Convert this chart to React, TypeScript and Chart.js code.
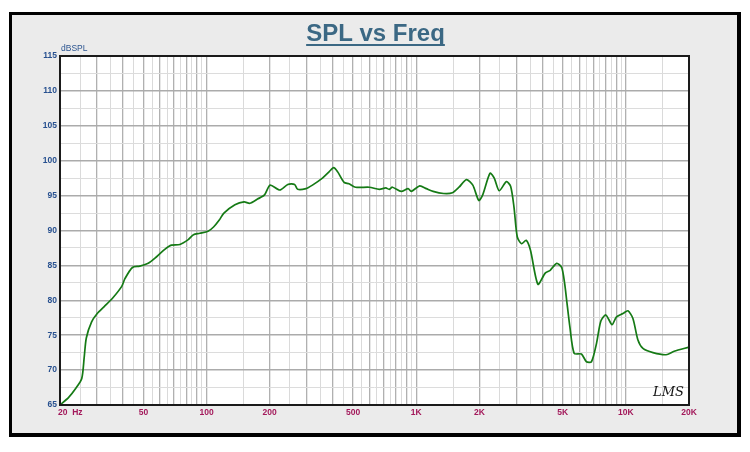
import React, { useEffect, useRef } from "react";
import { Chart, registerables } from "chart.js";

Chart.register(...registerables);

// ---- data ----
const chartTitle = "SPL vs Freq";
const yUnit = "dBSPL";
const logoText = "LMS";

const freqHz = [
  20, 22, 23.8, 25.4, 26.1, 26.7, 28.3, 30.1, 32.5, 35.6, 39.4, 40.8, 44.3, 48,
  52.7, 57.6, 63.2, 68, 74.6, 81.8, 86.6, 92.8, 101.7, 108, 115, 121, 136.6, 151,
  161, 175, 189, 201, 223.6, 244, 263, 272, 298, 320, 357, 384, 404, 422, 453,
  478, 514, 597, 667, 716, 743, 770, 848, 915, 947, 1039, 1118, 1204, 1350, 1488,
  1600, 1735, 1862, 1988, 2076, 2249, 2356, 2488, 2692, 2822, 2925, 3033, 3180,
  3344, 3505, 3806, 4123, 4355, 4677, 4940, 5100, 5219, 5406, 5667, 6138, 6485,
  6852, 7240, 7591, 8021, 8591, 9002, 9680, 10227, 10804, 11415, 12060, 13462,
  15553, 17000, 20000,
];

const splDb = [
  65.0, 66.1, 67.4, 68.8, 71.9, 74.6, 76.9, 78.1, 79.1, 80.3, 82.0, 83.1, 84.7, 84.9,
  85.3, 86.2, 87.3, 87.9, 88.0, 88.7, 89.4, 89.6, 89.9, 90.5, 91.5, 92.5, 93.7, 94.1,
  93.9, 94.5, 95.1, 96.5, 95.8, 96.6, 96.6, 95.9, 96.0, 96.5, 97.5, 98.4, 99.0, 98.4, 96.9,
  96.7, 96.2, 96.2, 95.9, 96.1, 95.9, 96.2, 95.6, 96.0, 95.6, 96.4, 96.0, 95.6, 95.3, 95.4,
  96.2, 97.3, 96.5, 94.3, 95.1, 98.2, 97.5, 95.7, 97.0, 96.3, 93.4, 89.1, 88.1,
  88.6, 87.2, 82.3, 83.9, 84.3, 85.3, 84.7, 82.5, 80.0, 76.2, 72.4, 72.3, 71.2,
  71.2, 73.8, 77.0, 77.9, 76.5, 77.6, 78.1, 78.5, 77.4, 74.3, 73.1, 72.5,
  72.2, 72.7, 73.3,
];

const xGridValues = [
  20, 25, 30, 35, 40, 45, 50, 55, 60, 65, 70, 75, 80, 85, 90, 95, 100,
  150, 200, 250, 300, 350, 400, 450, 500, 550, 600, 650, 700, 750, 800, 850, 900, 950, 1000,
  1500, 2000, 2500, 3000, 3500, 4000, 4500, 5000, 5500, 6000, 6500, 7000, 7500, 8000, 8500, 9000, 9500, 10000,
  15000, 20000,
];
const xLabelValues = [20, 50, 100, 200, 500, 1000, 2000, 5000, 10000, 20000];
const xLabelTexts = ["20  Hz", "50", "100", "200", "500", "1K", "2K", "5K", "10K", "20K"];

const yMin = 65;
const yMax = 115;
const yGridStep = 2.5;
const yLabelStep = 5;

const FONT = 'Arial, "Liberation Sans", sans-serif';

function isMajorX(v: number) {
  const p = Math.pow(10, Math.floor(Math.log10(v)));
  const r = v / p;
  return Math.abs(r - Math.round(r)) < 1e-6;
}

const framePlugin = {
  id: "framePlugin",
  beforeDraw(chart: any) {
    const { ctx, chartArea } = chart;
    ctx.save();
    ctx.fillStyle = "#ffffff";
    ctx.fillRect(0, 0, chart.width, chart.height);
    ctx.fillStyle = "#000000";
    ctx.fillRect(9, 12, 732, 425);
    ctx.fillStyle = "#ebebeb";
    ctx.fillRect(12, 15, 725, 418);
    ctx.fillStyle = "#ffffff";
    ctx.fillRect(
      chartArea.left,
      chartArea.top,
      chartArea.right - chartArea.left,
      chartArea.bottom - chartArea.top
    );
    ctx.restore();
  },
  afterDraw(chart: any) {
    const { ctx, chartArea } = chart;
    ctx.save();
    // plot border
    ctx.strokeStyle = "#1a1a1a";
    ctx.lineWidth = 2;
    ctx.strokeRect(
      chartArea.left,
      chartArea.top,
      chartArea.right - chartArea.left,
      chartArea.bottom - chartArea.top
    );
    // title with underline
    ctx.font = `bold 24px ${FONT}`;
    ctx.fillStyle = "#3b6884";
    ctx.textAlign = "center";
    ctx.textBaseline = "alphabetic";
    const cx = (chartArea.left + chartArea.right) / 2 + 1;
    ctx.fillText(chartTitle, cx, 41);
    const tw = ctx.measureText(chartTitle).width;
    ctx.fillRect(cx - tw / 2, 44, tw, 2);
    // unit label
    ctx.font = `8.5px ${FONT}`;
    ctx.fillStyle = "#2c5590";
    ctx.textAlign = "left";
    ctx.textBaseline = "middle";
    ctx.fillText(yUnit, chartArea.left + 1, 49);
    // first x label
    const xs = chart.scales.x;
    ctx.font = `bold 8.5px ${FONT}`;
    ctx.fillStyle = "#a3195b";
    ctx.textAlign = "left";
    ctx.textBaseline = "top";
    ctx.fillText(xLabelTexts[0], xs.getPixelForValue(xLabelValues[0]) - 2, chartArea.bottom + 3);
    // logo
    ctx.font = 'italic 13px "DejaVu Serif", serif';
    ctx.fillStyle = "#111111";
    ctx.textAlign = "left";
    ctx.textBaseline = "alphabetic";
    ctx.fillText(logoText, 653, 396);
    ctx.restore();
  },
};

export default function App() {
  const canvasRef = useRef<HTMLCanvasElement | null>(null);

  useEffect(() => {
    document.body.style.margin = "0";
    const canvas = canvasRef.current;
    if (!canvas) return;
    const chart = new Chart(canvas, {
      type: "line",
      data: {
        datasets: [
          {
            data: freqHz.map((f, i) => ({ x: f, y: splDb[i] })),
            borderColor: "#157a15",
            borderWidth: 1.7,
            pointRadius: 0,
            tension: 0.25,
            fill: false,
          },
        ],
      },
      options: {
        animation: false,
        responsive: false,
        layout: { padding: { left: 20, right: 61, top: 56, bottom: 27 } },
        plugins: {
          legend: { display: false },
          title: { display: false },
          tooltip: { enabled: false },
        },
        scales: {
          x: {
            type: "logarithmic",
            min: 20,
            max: 20000,
            afterBuildTicks: (s: any) => {
              s.ticks = xGridValues.map((v) => ({ value: v }));
            },
            afterFit: (s: any) => {
              s.height = 20;
            },
            border: { display: false },
            grid: {
              drawTicks: false,
              color: (c: any) => (isMajorX(c.tick.value) ? "#b0b0b0" : "#dadada"),
              lineWidth: (c: any) => (isMajorX(c.tick.value) ? 1.3 : 1),
            },
            ticks: {
              autoSkip: false,
              maxRotation: 0,
              minRotation: 0,
              padding: 3,
              color: "#a3195b",
              font: { family: FONT, size: 8.5, weight: "bold" },
              callback: (v: any) => {
                const i = xLabelValues.indexOf(Number(v));
                return i > 0 ? xLabelTexts[i] : "";
              },
            },
          },
          y: {
            type: "linear",
            min: yMin,
            max: yMax,
            afterFit: (s: any) => {
              s.width = 40;
            },
            border: { display: false },
            grid: {
              drawTicks: false,
              color: (c: any) => (c.tick.value % yLabelStep === 0 ? "#ababab" : "#dcdcdc"),
              lineWidth: (c: any) => (c.tick.value % yLabelStep === 0 ? 1.5 : 1),
            },
            ticks: {
              stepSize: yGridStep,
              autoSkip: false,
              padding: 3,
              color: "#27508f",
              font: { family: FONT, size: 8.5, weight: "bold" },
              callback: (v: any) => (Number(v) % yLabelStep === 0 ? String(v) : ""),
            },
          },
        },
      },
      plugins: [framePlugin],
    } as any);
    return () => chart.destroy();
  }, []);

  return (
    <div style={{ width: 750, height: 452 }}>
      <canvas ref={canvasRef} width={750} height={452} style={{ display: "block" }} />
    </div>
  );
}
